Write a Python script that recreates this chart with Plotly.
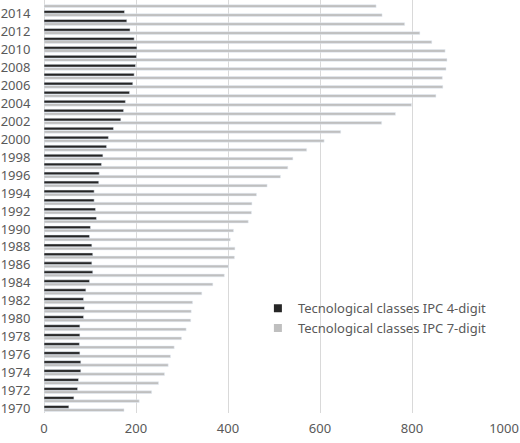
import plotly.graph_objects as go

years = list(range(1970, 2016))
four_digit = [54, 65, 73, 75, 80, 80, 78, 77, 78, 78,
              86, 88, 86, 91, 99, 106, 104, 106, 104, 99,
              101, 114, 112, 109, 109, 119, 120, 125, 128, 136,
              140, 151, 167, 173, 177, 186, 193, 196, 199, 201,
              202, 196, 187, 180, 175, None]
seven_digit = [174, 207, 234, 249, 262, 270, 275, 283, 299, 309,
               319, 320, 323, 343, 367, 392, 401, 414, 415, 405,
               412, 444, 451, 452, 462, 485, 514, 530, 541, 571,
               609, 645, 734, 764, 799, 852, 867, 866, 874, 876,
               872, 843, 817, 784, 735, 722]
names = ["Tecnological classes IPC 4-digit", "Tecnological classes IPC 7-digit"]
colors = ["#262626", "#bfbfbf"]
tick_years = list(range(1970, 2015, 2))
x_ticks = [0, 200, 400, 600, 800, 1000]

FONT = "Noto Sans"
TXT = "#595959"

fig = go.Figure()
# gray first so it sits below the black bar within each year
fig.add_trace(go.Bar(y=years, x=seven_digit, orientation="h", marker_color=colors[1],
                     showlegend=False, name=names[1]))
fig.add_trace(go.Bar(y=years, x=four_digit, orientation="h", marker_color=colors[0],
                     showlegend=False, name=names[0]))
# legend entries
for nm, c in zip(names, colors):
    fig.add_trace(go.Scatter(x=[None], y=[None], mode="markers", name=nm,
                             marker=dict(symbol="square", size=8, color=c)))

fig.update_layout(
    width=520, height=443,
    margin=dict(l=44, r=16, t=0, b=30, pad=0),
    paper_bgcolor="white", plot_bgcolor="white",
    barmode="group", bargap=0.28, bargroupgap=0.15,
    font=dict(family=FONT, size=13, color=TXT),
    legend=dict(x=0.465, y=0.29, xanchor="left", yanchor="top",
                bgcolor="rgba(0,0,0,0)", itemwidth=30,
                font=dict(family=FONT, size=13, color=TXT), tracegroupgap=0),
    xaxis=dict(range=[0, 1000], tickvals=x_ticks, showgrid=True, gridcolor="#d9d9d9",
               gridwidth=1, zeroline=True, zerolinecolor="#d9d9d9", zerolinewidth=1,
               showline=False, ticks="outside", ticklen=3, tickcolor="rgba(0,0,0,0)",
               automargin=False, tickfont=dict(size=13, color=TXT)),
    yaxis=dict(range=[1969.5, 2015.5], tickvals=tick_years, showgrid=False,
               zeroline=False, showline=False, ticks="outside", ticklen=10,
               tickcolor="rgba(0,0,0,0)", automargin=False,
               tickfont=dict(size=13, color=TXT)),
)

fig.write_html("out.html", config={"displayModeBar": False},
               post_script="document.body.style.margin='0';document.body.style.overflow='hidden';")
